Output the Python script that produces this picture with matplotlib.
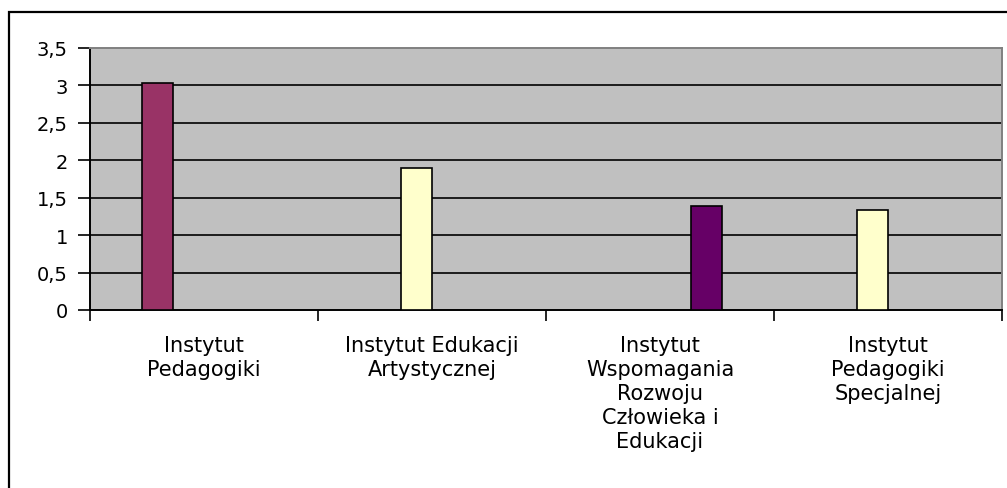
import matplotlib
matplotlib.use("Agg")
import matplotlib.pyplot as plt
from matplotlib.patches import Rectangle
import numpy as np

categories = ["Instytut\nPedagogiki", "Instytut Edukacji\nArtystycznej",
              "Instytut\nWspomagania\nRozwoju\nCzłowieka i\nEdukacji",
              "Instytut\nPedagogiki\nSpecjalnej"]
series_a = [3.03, np.nan, np.nan, np.nan]
series_b = [np.nan, 1.90, np.nan, 1.34]
series_c = [np.nan, np.nan, np.nan, np.nan]
series_d = [np.nan, np.nan, 1.39, np.nan]
series_colors = ["#993366", "#FFFFCC", "#CCFFFF", "#660066"]
yticks = [0, 0.5, 1, 1.5, 2, 2.5, 3, 3.5]
ytick_labels = ["0", "0,5", "1", "1,5", "2", "2,5", "3", "3,5"]

plt.rcParams['font.family'] = ['DejaVu Sans']

W, H = 1007, 489
fig = plt.figure(figsize=(W / 100, H / 100), dpi=100)
ax = fig.add_axes([90 / W, (H - 311) / H, (1002 - 90) / W, (311 - 49) / H])
ax.set_facecolor("#C0C0C0")

x = np.arange(len(categories))
all_series = [series_a, series_b, series_c, series_d]
n = len(all_series)
w = 31 / 228
for i, (vals, col) in enumerate(zip(all_series, series_colors)):
    vals = np.array(vals, dtype=float)
    m = ~np.isnan(vals)
    ax.bar(x[m] + (i - (n - 1) / 2) * w, vals[m], width=w, color=col,
           edgecolor="black", linewidth=1.2, zorder=3)

ax.set_xlim(-0.5, len(categories) - 0.5)
ax.set_ylim(0, 3.5)

for y in yticks[1:-1]:
    ax.axhline(y, color="black", linewidth=1.2, zorder=2)

ax.set_yticks(yticks)
ax.set_yticklabels(ytick_labels, fontsize=14)
ax.tick_params(axis="y", length=9, width=1.2, pad=7, color="black")

ax.set_xticks(x)
ax.set_xticklabels(categories, fontsize=15, linespacing=1.25)
ax.set_xticks(np.arange(-0.5, len(categories)), minor=True)
ax.tick_params(axis="x", which="major", length=0, pad=18)
ax.tick_params(axis="x", which="minor", length=8, width=1.2, color="black")

for s in ["left", "bottom"]:
    ax.spines[s].set_color("black")
    ax.spines[s].set_linewidth(1.4)
for s in ["top", "right"]:
    ax.spines[s].set_color("#808080")
    ax.spines[s].set_linewidth(1.4)

fig.patches.append(Rectangle((9 / W, -0.1), 1.2, 1 - 13 / H + 0.1,
                             transform=fig.transFigure, fill=False,
                             edgecolor="black", linewidth=1.6))

fig.savefig("out.png", dpi=100)
